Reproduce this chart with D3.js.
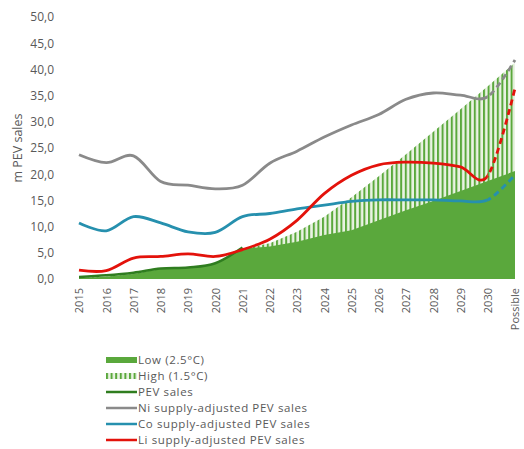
<!DOCTYPE html>
<html>
<head>
<meta charset="utf-8">
<script src="https://cdn.jsdelivr.net/npm/d3@7"></script>
<style>
  body { margin: 0; background: #fff; }
  text { font-family: "Open Sans", sans-serif; fill: #595959; }
</style>
</head>
<body>
<div class="chart"></div>
<script>
const categories = ['2015', '2016', '2017', '2018', '2019', '2020', '2021', '2022', '2023',
  '2024', '2025', '2026', '2027', '2028', '2029', '2030', 'Possible'];
const lowValues = [0.2, 0.45, 0.95, 1.9, 2.1, 3.0, 5.8, 6.2, 7.1, 8.4, 9.3, 11.2, 13.1, 14.9, 16.8, 18.7, 20.6];
const highValues = [0.2, 0.45, 0.95, 1.9, 2.1, 3.0, 5.8, 6.8, 9.0, 11.9, 15.6, 19.6, 23.8, 28.1, 32.4, 36.8, 41.3];
const pevSales = [0.4, 0.7, 1.2, 2.0, 2.2, 3.0, 6.0];
const niValues = [23.7, 22.2, 23.5, 18.6, 17.9, 17.2, 17.9, 22.1, 24.4, 27.1, 29.4, 31.4, 34.3, 35.5, 35.1, 34.8, 41.8];
const coValues = [10.7, 9.2, 11.9, 10.7, 9.0, 8.9, 11.9, 12.5, 13.4, 14.1, 14.8, 15.1, 15.1, 15.1, 14.9, 15.1, 19.9];
const liValues = [1.7, 1.6, 4.0, 4.3, 4.8, 4.3, 5.6, 7.6, 11.2, 16.3, 19.8, 21.8, 22.3, 22.1, 21.4, 19.7, 36.4];
const yTicks = [0, 5, 10, 15, 20, 25, 30, 35, 40, 45, 50];
const legendItems = ['Low (2.5°C)', 'High (1.5°C)', 'PEV sales', 'Ni supply-adjusted PEV sales',
  'Co supply-adjusted PEV sales', 'Li supply-adjusted PEV sales'];

const width = 524;
const height = 449;
const green = '#5aa83c';
const darkGreen = '#2f7d1f';
const colors = { ni: '#8a8a8a', co: '#2690ae', li: '#e3120b' };

const svg = d3.select('.chart')
  .append('svg')
  .attr('width', width)
  .attr('height', height);

const defs = svg.append('defs');
const hatch = defs.append('pattern')
  .attr('id', 'hatch')
  .attr('patternUnits', 'userSpaceOnUse')
  .attr('width', 4.6)
  .attr('height', 10);
hatch.append('rect').attr('width', 4.6).attr('height', 10).attr('fill', '#eaf3e3');
hatch.append('rect').attr('width', 2).attr('height', 10).attr('fill', green);

const x = d3.scalePoint().domain(categories).range([79, 515]);
const y = d3.scaleLinear().domain([0, 50]).range([279, 17]);

// clip regions: solid up to 2030, dashed after
defs.append('clipPath').attr('id', 'solidPart')
  .append('rect').attr('x', 0).attr('y', 0).attr('width', x('2030')).attr('height', height);
defs.append('clipPath').attr('id', 'dashPart')
  .append('rect').attr('x', x('2030')).attr('y', 0).attr('width', width - x('2030')).attr('height', height);

// areas
const area = d3.area()
  .x((d, i) => x(categories[i]))
  .y0(y(0))
  .y1((d) => y(d));

svg.append('path')
  .datum(highValues)
  .attr('fill', 'url(#hatch)')
  .attr('d', area);

svg.append('path')
  .datum(lowValues)
  .attr('fill', green)
  .attr('d', area);

const line = d3.line()
  .x((d, i) => x(categories[i]))
  .y((d) => y(d))
  .curve(d3.curveCardinal.tension(0));

svg.append('path')
  .datum(pevSales)
  .attr('fill', 'none')
  .attr('stroke', darkGreen)
  .attr('stroke-width', 2.5)
  .attr('d', line);

[['ni', niValues], ['co', coValues], ['li', liValues]].forEach(([key, values]) => {
  svg.append('path')
    .datum(values)
    .attr('fill', 'none')
    .attr('stroke', colors[key])
    .attr('stroke-width', 2.8)
    .attr('clip-path', 'url(#solidPart)')
    .attr('d', line);
  svg.append('path')
    .datum(values)
    .attr('fill', 'none')
    .attr('stroke', colors[key])
    .attr('stroke-width', 2.8)
    .attr('stroke-dasharray', '6,4')
    .attr('clip-path', 'url(#dashPart)')
    .attr('d', line);
});

// y axis
const yAxis = svg.append('g')
  .attr('transform', 'translate(54,0)')
  .call(d3.axisLeft(y).tickValues(yTicks).tickSize(0).tickPadding(0)
    .tickFormat((d) => d3.format('.1f')(d).replace('.', ',')));
yAxis.select('.domain').remove();
yAxis.selectAll('text').style('font-size', '12px').attr('fill', '#595959');

svg.append('text')
  .attr('transform', 'translate(22,148) rotate(-90)')
  .attr('text-anchor', 'middle')
  .style('font-size', '12.5px')
  .text('m PEV sales');

// x axis labels
const xAxis = svg.append('g')
  .attr('transform', 'translate(0,288)')
  .call(d3.axisBottom(x).tickSize(0).tickPadding(0));
xAxis.select('.domain').remove();
xAxis.selectAll('text')
  .style('font-size', '11px')
  .attr('fill', '#595959')
  .attr('text-anchor', 'end')
  .attr('dy', '0.35em')
  .attr('y', 0)
  .attr('transform', 'rotate(-90)');

// legend
const legend = svg.append('g').attr('transform', 'translate(106,360)');
legendItems.forEach((label, i) => {
  const g = legend.append('g').attr('transform', `translate(0,${i * 16})`);
  if (i === 0) {
    g.append('rect').attr('x', 0).attr('y', -3).attr('width', 31).attr('height', 6).attr('fill', green);
  } else if (i === 1) {
    g.append('rect').attr('x', 0).attr('y', -3).attr('width', 31).attr('height', 6).attr('fill', 'url(#hatch)');
  } else {
    const c = [darkGreen, colors.ni, colors.co, colors.li][i - 2];
    g.append('line').attr('x1', 0).attr('x2', 31).attr('y1', 0).attr('y2', 0)
      .attr('stroke', c).attr('stroke-width', 2.5);
  }
  g.append('text')
    .attr('x', 32)
    .attr('dy', '0.35em')
    .style('font-size', '11.5px')
    .style('letter-spacing', '0.6px')
    .attr('fill', '#505050')
    .text(label);
});
</script>
</body>
</html>
